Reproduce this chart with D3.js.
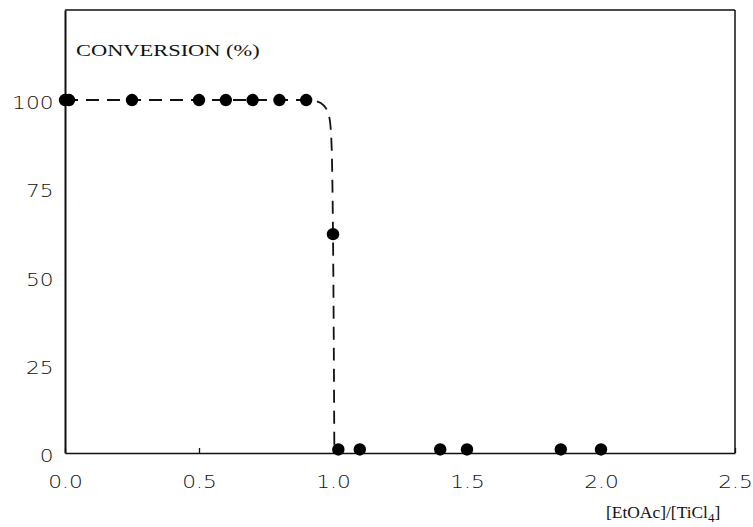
<!DOCTYPE html>
<html>
<head>
<meta charset="utf-8">
<script src="https://cdn.jsdelivr.net/npm/d3@7"></script>
<style>
  html, body { margin: 0; padding: 0; background: #fff; }
  svg { display: block; }
</style>
</head>
<body>
<svg id="chart" width="753" height="527"></svg>
<script>
// ---- data ----
const ratio = [0, 0.015, 0.25, 0.5, 0.6, 0.7, 0.8, 0.9, 1.0, 1.02, 1.1, 1.4, 1.5, 1.85, 2.0];
const conversion = [100, 100, 100, 100, 100, 100, 100, 100, 62, 1, 1, 1, 1, 1, 1];
const curveRatio = [0, 0.9, 0.94, 0.965, 0.985, 0.993, 0.997, 1.0, 1.003, 1.005];
const curveConv  = [100, 100, 99.6, 98.5, 95.5, 90, 80, 62, 30, 0];
const xTicks = [0, 0.5, 1.0, 1.5, 2.0, 2.5];
const xTickLabels = ["0.0", "0.5", "1.0", "1.5", "2.0", "2.5"];
const yTicks = [0, 25, 50, 75, 100];
const yTickLabels = ["0", "25", "50", "75", "100"];
const yTitle = "CONVERSION (%)";

// ---- layout ----
(function () {
const svg = d3.select("#chart");
const W = 753, H = 527;
const mLeft = 65, mRight = 735, mTop = 10, mBottom = 453;
const ink = "#111";
const tickFont = "'DejaVu Sans', 'Liberation Sans', sans-serif";

const x = d3.scaleLinear().domain([0, 2.5]).range([mLeft, mRight]);
const y = d3.scaleLinear().domain([0, 125.5]).range([mBottom, mTop]);

svg.append("rect").attr("width", W).attr("height", H).attr("fill", "#fff");

// frame
svg.append("line").attr("x1", mLeft).attr("x2", mRight).attr("y1", mTop).attr("y2", mTop)
  .attr("stroke", ink).attr("stroke-width", 1.5);
svg.append("line").attr("x1", mRight).attr("x2", mRight).attr("y1", mTop).attr("y2", mBottom)
  .attr("stroke", ink).attr("stroke-width", 1.5);

// x axis
const xAxis = svg.append("g").attr("transform", `translate(0,${mBottom})`)
  .call(d3.axisBottom(x).tickValues(xTicks).tickSize(-5).tickSizeOuter(0)
    .tickFormat((d, i) => xTickLabels[i]));
xAxis.select(".domain").attr("stroke", ink).attr("stroke-width", 1.6);
xAxis.selectAll(".tick line").attr("stroke", ink).attr("stroke-width", 1.3);
xAxis.selectAll(".tick text")
  .attr("y", null).attr("dy", null).attr("x", 0)
  .attr("transform", "translate(0,35) scale(1.24,1)")
  .attr("fill", ink)
  .style("font-family", tickFont)
  .style("font-weight", "200")
  .style("font-size", "17.5px");

// y axis
const yAxis = svg.append("g").attr("transform", `translate(${mLeft},0)`)
  .call(d3.axisLeft(y).tickValues(yTicks).tickSize(0).tickSizeOuter(0)
    .tickFormat((d, i) => yTickLabels[i]));
yAxis.select(".domain").attr("stroke", ink).attr("stroke-width", 2);
yAxis.selectAll(".tick text")
  .attr("x", 0).attr("dy", null)
  .attr("transform", "translate(-11.5,8.5) scale(1.24,1)")
  .attr("text-anchor", "end")
  .attr("fill", ink)
  .style("font-family", tickFont)
  .style("font-weight", "200")
  .style("font-size", "17.5px");

// y title inside plot
svg.append("text")
  .attr("transform", "translate(76,56) scale(1.32,1)")
  .attr("fill", ink)
  .style("font-family", "'Liberation Serif', 'Times New Roman', serif")
  .style("font-size", "17px")
  .text(yTitle);

// x title
const xt = svg.append("text")
  .attr("transform", "translate(606,518) scale(1.09,1)")
  .attr("text-anchor", "start")
  .attr("fill", ink)
  .style("font-family", "'Liberation Serif', 'Times New Roman', serif")
  .style("font-size", "16px");
xt.append("tspan").text("[EtOAc]/[TiCl");
xt.append("tspan").attr("dy", 3.5).style("font-size", "12px").text("4");
xt.append("tspan").attr("dy", -3.5).text("]");

// dashed fitted curve
const curvePts = curveRatio.map((r, i) => [r, curveConv[i]]);
svg.append("path")
  .datum(curvePts)
  .attr("d", d3.line().x(d => x(d[0])).y(d => y(d[1])).curve(d3.curveMonotoneX))
  .attr("fill", "none")
  .attr("stroke", ink)
  .attr("stroke-width", 1.8)
  .attr("stroke-dasharray", "13,8");

// data points
svg.append("g").selectAll("circle")
  .data(ratio.map((r, i) => [r, conversion[i]]))
  .join("circle")
  .attr("cx", d => x(d[0]))
  .attr("cy", d => y(d[1]))
  .attr("r", 6.2)
  .attr("fill", "#000");
})();
</script>
</body>
</html>
